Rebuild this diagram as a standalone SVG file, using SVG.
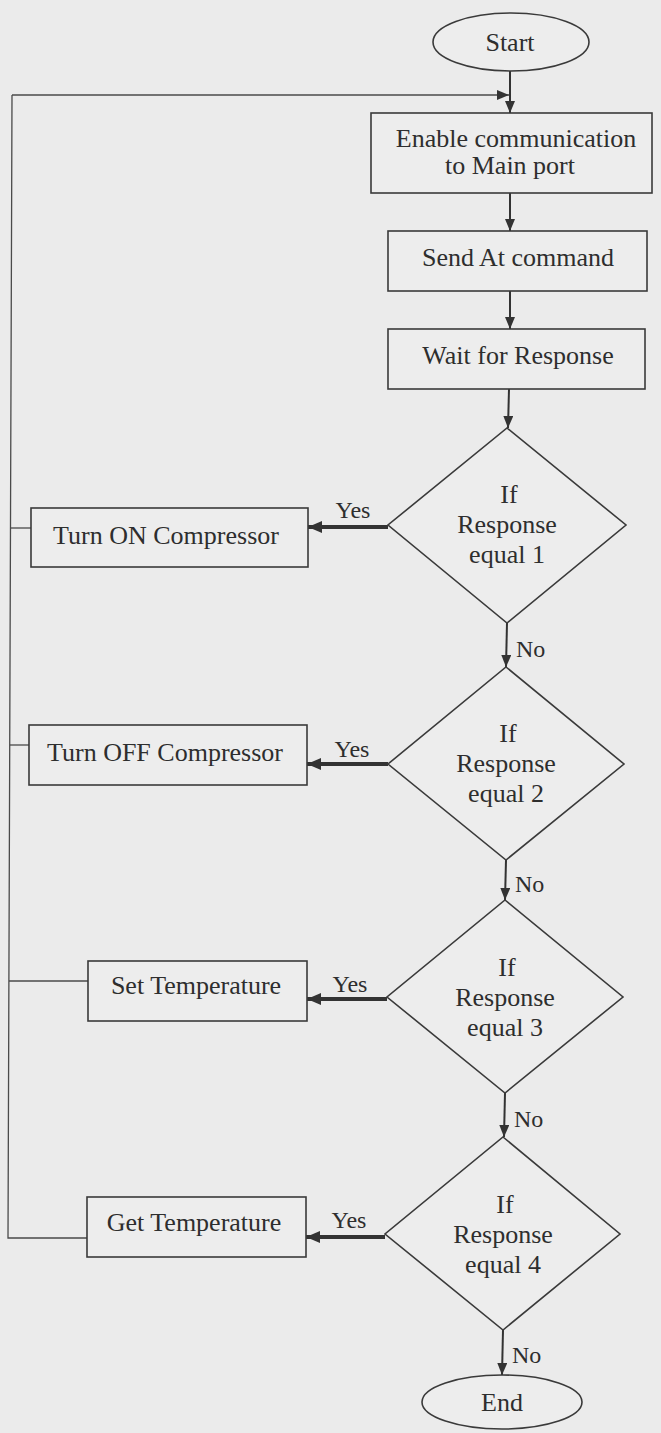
<svg xmlns="http://www.w3.org/2000/svg" width="661" height="1433" viewBox="0 0 661 1433">
<style>
.bg{fill:#ebebeb}
.shape{fill:#ededed;stroke:#3a3a3a;stroke-width:1.6}
.t{font-family:'Liberation Serif','DejaVu Serif',serif;font-size:26px;fill:#2e2e2e;text-anchor:middle}
.lbl{font-family:'Liberation Serif','DejaVu Serif',serif;font-size:24px;fill:#2e2e2e}
.flow{fill:none;stroke:#333;stroke-width:2}
.yes{fill:none;stroke:#333;stroke-width:4}
.loop{fill:none;stroke:#4a4a4a;stroke-width:1.3}
</style>
<defs>
<marker id="ah" viewBox="0 0 12 10" refX="12" refY="5" markerWidth="12" markerHeight="10" orient="auto" markerUnits="userSpaceOnUse"><path d="M0,0 L12,5 L0,10 Z" fill="#333"/></marker>
<marker id="ahy" viewBox="0 0 14 12" refX="14" refY="6" markerWidth="14" markerHeight="12" orient="auto" markerUnits="userSpaceOnUse"><path d="M0,0 L14,6 L0,12 Z" fill="#333"/></marker>
</defs>
<rect class="bg" x="0" y="0" width="661" height="1433"/>

<g id="connectors">
<path class="flow" d="M510,71 L510,113" marker-end="url(#ah)"/>
<path class="loop" d="M12,95 L509,95" marker-end="url(#ah)"/>
<path class="flow" d="M510,193 L510,231" marker-end="url(#ah)"/>
<path class="flow" d="M510,291 L510,329" marker-end="url(#ah)"/>
<path class="flow" d="M509,389 L508,428" marker-end="url(#ah)"/>
<path class="flow" d="M507,623 L506,667" marker-end="url(#ah)"/>
<path class="flow" d="M506,860 L505,900" marker-end="url(#ah)"/>
<path class="flow" d="M505,1093 L504,1137" marker-end="url(#ah)"/>
<path class="flow" d="M503,1330 L502,1375" marker-end="url(#ah)"/>
<path class="yes" d="M388,527 L308,527" marker-end="url(#ahy)"/>
<path class="yes" d="M388,764 L307,764" marker-end="url(#ahy)"/>
<path class="yes" d="M387,999 L307,999" marker-end="url(#ahy)"/>
<path class="yes" d="M385,1237 L306,1237" marker-end="url(#ahy)"/>
<path class="loop" d="M12,95 L8,1238 L87,1238"/>
<path class="loop" d="M11,528 L31,528"/>
<path class="loop" d="M10,745 L29,745"/>
<path class="loop" d="M9,981 L88,981"/>
<text class="lbl" x="353" y="518" text-anchor="middle">Yes</text>
<text class="lbl" x="352" y="757" text-anchor="middle">Yes</text>
<text class="lbl" x="350" y="992" text-anchor="middle">Yes</text>
<text class="lbl" x="349" y="1228" text-anchor="middle">Yes</text>
<text class="lbl" x="516" y="657">No</text>
<text class="lbl" x="515" y="892">No</text>
<text class="lbl" x="514" y="1127">No</text>
<text class="lbl" x="512" y="1363">No</text>
</g>

<g id="start">
<ellipse class="shape" cx="511" cy="42" rx="78" ry="29"/>
<text class="t" x="510" y="51">Start</text>
</g>

<g id="enable">
<rect class="shape" x="371" y="113" width="281" height="80"/>
<text class="t" x="516" y="147">Enable communication</text>
<text class="t" x="510" y="174">to Main port</text>
</g>

<g id="send">
<rect class="shape" x="388" y="231" width="259" height="60"/>
<text class="t" x="518" y="266">Send At command</text>
</g>

<g id="wait">
<rect class="shape" x="388" y="329" width="257" height="60"/>
<text class="t" x="518" y="364">Wait for Response</text>
</g>

<g id="dec1">
<polygon class="shape" points="507,428 626,525 507,623 388,525"/>
<text class="t" x="509" y="503">If</text>
<text class="t" x="507" y="533">Response</text>
<text class="t" x="507" y="563">equal 1</text>
</g>

<g id="turnon">
<rect class="shape" x="31" y="508" width="277" height="59"/>
<text class="t" x="166" y="544">Turn ON Compressor</text>
</g>

<g id="dec2">
<polygon class="shape" points="506,667 624,764 506,860 388,764"/>
<text class="t" x="508" y="742">If</text>
<text class="t" x="506" y="772">Response</text>
<text class="t" x="506" y="802">equal 2</text>
</g>

<g id="turnoff">
<rect class="shape" x="29" y="725" width="278" height="60"/>
<text class="t" x="165" y="761">Turn OFF Compressor</text>
</g>

<g id="dec3">
<polygon class="shape" points="505,900 623,997 505,1093 387,997"/>
<text class="t" x="507" y="976">If</text>
<text class="t" x="505" y="1006">Response</text>
<text class="t" x="505" y="1036">equal 3</text>
</g>

<g id="settemp">
<rect class="shape" x="88" y="961" width="219" height="60"/>
<text class="t" x="196" y="994">Set Temperature</text>
</g>

<g id="dec4">
<polygon class="shape" points="503,1137 620,1234 503,1330 385,1234"/>
<text class="t" x="505" y="1213">If</text>
<text class="t" x="503" y="1243">Response</text>
<text class="t" x="503" y="1273">equal 4</text>
</g>

<g id="gettemp">
<rect class="shape" x="87" y="1197" width="219" height="60"/>
<text class="t" x="194" y="1231">Get Temperature</text>
</g>

<g id="end">
<ellipse class="shape" cx="502" cy="1402" rx="80" ry="27"/>
<text class="t" x="502" y="1411">End</text>
</g>
</svg>
